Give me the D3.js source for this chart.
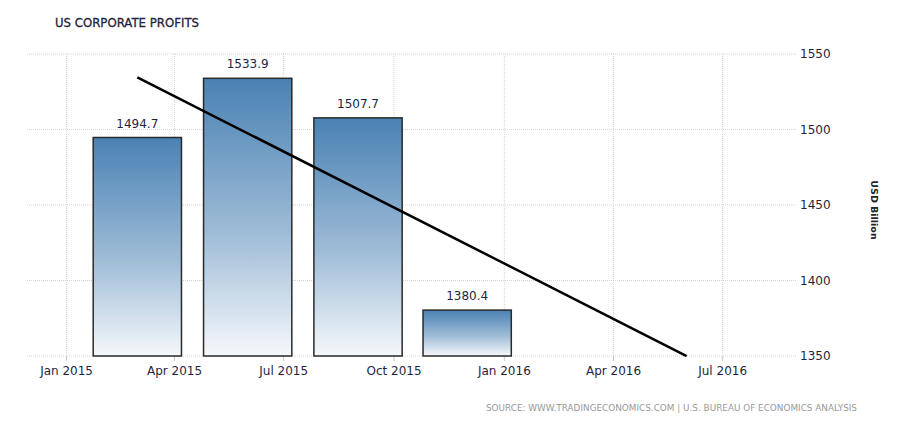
<!DOCTYPE html>
<html>
<head>
<meta charset="utf-8">
<script src="https://cdn.jsdelivr.net/npm/d3@7"></script>
<style>
  body { margin: 0; background: #fff; }
  text { font-family: "DejaVu Sans", sans-serif; }
</style>
</head>
<body>
<svg width="913" height="425"></svg>
<script>
// quarterly values, bars placed at the quarter's plotted date
const quarters = ["2015-03-01", "2015-06-01", "2015-09-01", "2015-12-01"];
const profits = [1494.7, 1533.9, 1507.7, 1380.4];
const xTicks = ["2015-01-01", "2015-04-01", "2015-07-01", "2015-10-01", "2016-01-01", "2016-04-01", "2016-07-01"];
const yTicks = [1350, 1400, 1450, 1500, 1550];
const trendSteps = 6; // regression line runs two quarters past the last bar

const parse = d3.timeParse("%Y-%m-%d");
const data = quarters.map((q, i) => ({date: parse(q), value: profits[i]}));

const svg = d3.select("svg");
const margin = {top: 54, right: 116, bottom: 69, left: 27};
const width = +svg.attr("width");
const height = +svg.attr("height");
const innerWidth = width - margin.left - margin.right;
const innerHeight = height - margin.top - margin.bottom;

const x = d3.scaleTime()
    .domain([parse("2014-11-29"), parse("2016-09-01")])
    .range([0, innerWidth]);

const y = d3.scaleLinear()
    .domain([1350, 1550])
    .range([innerHeight, 0]);

const textColor = "#1f1f3f";

// gradient for bars
const grad = svg.append("defs").append("linearGradient")
    .attr("id", "barGrad")
    .attr("x1", 0).attr("y1", 0).attr("x2", 0).attr("y2", 1);
grad.append("stop").attr("offset", "0%").attr("stop-color", "#4a82b4");
grad.append("stop").attr("offset", "55%").attr("stop-color", "#9dbbd6");
grad.append("stop").attr("offset", "100%").attr("stop-color", "#f5f8fb");

svg.append("text")
    .attr("x", 55)
    .attr("y", 27)
    .attr("font-size", 12.5)
    .attr("fill", "#22223a")
    .attr("stroke", "#22223a")
    .attr("stroke-width", 0.3)
    .attr("textLength", 144)
    .attr("lengthAdjust", "spacingAndGlyphs")
    .text("US CORPORATE PROFITS");

const g = svg.append("g")
    .attr("transform", `translate(${margin.left},${margin.top})`);

// horizontal grid
g.append("g").attr("class", "y-grid")
  .selectAll("line")
  .data(yTicks)
  .enter()
  .append("line")
    .attr("x1", 0)
    .attr("x2", innerWidth)
    .attr("y1", d => y(d))
    .attr("y2", d => y(d))
    .style("stroke", "#d4d4d4")
    .style("stroke-dasharray", "1,1");

// vertical grid + ticks
const tickDates = xTicks.map(parse);
g.append("g").attr("class", "x-grid")
  .selectAll("line")
  .data(tickDates)
  .enter()
  .append("line")
    .attr("x1", d => x(d))
    .attr("x2", d => x(d))
    .attr("y1", 0)
    .attr("y2", innerHeight)
    .style("stroke", "#d4d4d4")
    .style("stroke-dasharray", "1,1");

g.append("g").attr("class", "x-ticks")
  .selectAll("line")
  .data(tickDates)
  .enter()
  .append("line")
    .attr("x1", d => x(d))
    .attr("x2", d => x(d))
    .attr("y1", innerHeight)
    .attr("y2", innerHeight + 5)
    .style("stroke", "#c8c8c8");

// bars
const barWidth = 0.8 * (x(data[1].date) - x(data[0].date));
g.append("g").attr("class", "bars")
  .selectAll("rect")
  .data(data)
  .enter()
  .append("rect")
    .attr("x", d => x(d.date) - barWidth / 2)
    .attr("y", d => y(d.value))
    .attr("width", barWidth)
    .attr("height", d => innerHeight - y(d.value))
    .style("fill", "url(#barGrad)")
    .style("stroke", "#2a2a2a")
    .style("stroke-width", 1.5);

g.append("g").attr("class", "bar-labels")
  .selectAll("text")
  .data(data)
  .enter()
  .append("text")
    .attr("x", d => x(d.date))
    .attr("y", d => y(d.value) - 10)
    .attr("text-anchor", "middle")
    .attr("font-size", 12)
    .attr("fill", textColor)
    .text(d => d3.format(".1f")(d.value));

// linear trend (least squares over the bars)
const n = data.length;
const meanX = (n - 1) / 2;
const meanY = d3.mean(profits);
const slope = d3.sum(profits, (v, i) => (i - meanX) * (v - meanY)) / d3.sum(profits, (v, i) => (i - meanX) ** 2);
const intercept = meanY - slope * meanX;
const trend = [0, trendSteps - 1].map(i => ({
  date: d3.timeMonth.offset(data[0].date, 3 * i),
  value: intercept + slope * i
}));

g.append("path")
    .datum(trend)
    .attr("d", d3.line().x(d => x(d.date)).y(d => y(d.value)))
    .style("fill", "none")
    .style("stroke", "#000")
    .style("stroke-width", 2.5);

// x labels
g.append("g").attr("class", "x-labels")
  .selectAll("text")
  .data(tickDates)
  .enter()
  .append("text")
    .attr("x", d => x(d))
    .attr("y", innerHeight + 19)
    .attr("text-anchor", "middle")
    .attr("font-size", 12)
    .attr("fill", textColor)
    .text(d3.timeFormat("%b %Y"));

// y labels on the right
g.append("g").attr("class", "y-labels")
  .selectAll("text")
  .data(yTicks)
  .enter()
  .append("text")
    .attr("x", innerWidth + 3)
    .attr("y", d => y(d) + 4)
    .attr("font-size", 12)
    .attr("fill", textColor)
    .text(d => d);

svg.append("text")
    .attr("transform", "translate(871,210) rotate(90)")
    .attr("text-anchor", "middle")
    .attr("font-size", 9.5)
    .attr("font-weight", "bold")
    .attr("fill", "#222")
    .text("USD Billion");

svg.append("text")
    .attr("x", 486)
    .attr("y", 411)
    .attr("font-size", 9)
    .attr("fill", "#999")
    .attr("textLength", 371)
    .attr("lengthAdjust", "spacingAndGlyphs")
    .text("SOURCE: WWW.TRADINGECONOMICS.COM  |  U.S. BUREAU OF ECONOMICS ANALYSIS");
</script>
</body>
</html>
